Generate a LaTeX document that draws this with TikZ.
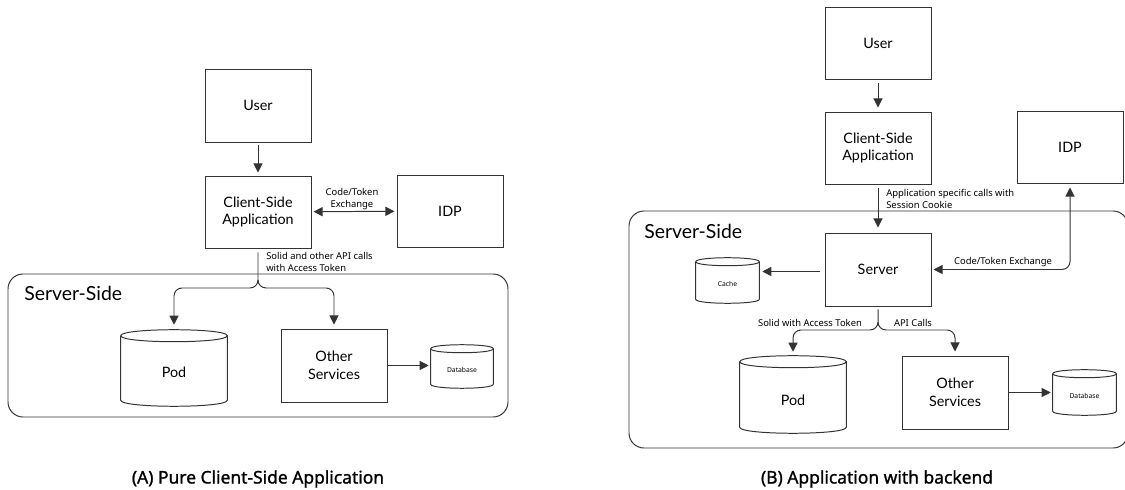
\documentclass[tikz,border=0pt]{standalone}
\usepackage{fontspec}
\setmainfont{Lato}
\newfontfamily\capfont[FakeBold=1.2]{Noto Sans}
\newfontfamily\lblfont{Noto Sans}
\usetikzlibrary{arrows.meta,calc}
\newcommand\pxu{0.025cm}
\definecolor{ln}{HTML}{333333}
\newcommand\drawcyl[2]{%
  \draw[cylline] ($(#1.north west)+(0,#2)$) .. controls ($(#1.north west)+(0,{-#2/3})$) and ($(#1.north east)+(0,{-#2/3})$) .. ($(#1.north east)+(0,#2)$)
     .. controls ($(#1.north east)+(0,{7*#2/3})$) and ($(#1.north west)+(0,{7*#2/3})$) .. ($(#1.north west)+(0,#2)$);
  \draw[cylline] ($(#1.north west)+(0,#2)$) -- ($(#1.south west)+(0,-#2)$)
     .. controls ($(#1.south west)+(0,{#2/3})$) and ($(#1.south east)+(0,{#2/3})$) .. ($(#1.south east)+(0,-#2)$)
     -- ($(#1.north east)+(0,#2)$);
}
\tikzset{
  cylline/.style={draw=ln, line width=0.7pt},
  box/.style={draw=ln, line width=0.7pt, rectangle, inner sep=0pt, minimum width=106*\pxu, minimum height=73*\pxu, align=center, font=\fontsize{10.2}{12.5}\selectfont},
  cylnode/.style={rectangle, inner sep=0pt, align=center},
  container/.style={draw=ln, line width=0.7pt, rounded corners=15*\pxu, rectangle, inner sep=0pt},
  conn/.style={draw=ln, line width=0.7pt, -{Triangle[length=6.5pt,width=6.5pt]}},
  biconn/.style={draw=ln, line width=0.7pt, {Triangle[length=6.5pt,width=6.5pt]}-{Triangle[length=6.5pt,width=6.5pt]}},
  small/.style={font=\lblfont\fontsize{6.7}{8}\selectfont, inner sep=0pt, align=left},
  tiny/.style={font=\lblfont\fontsize{4.8}{6}\selectfont},
  sstitle/.style={font=\fontsize{13.8}{15}\selectfont, inner sep=0pt, anchor=west},
  caption/.style={font=\capfont\fontsize{12.4}{14}\selectfont, inner sep=0pt},
}
\begin{document}
\begin{tikzpicture}[x=0.025cm, y=-0.025cm]
\useasboundingbox (0,0) rectangle (1125,490);
% ---------- (A) ----------
\node[container, minimum width=500*\pxu, minimum height=143*\pxu] (ssA) at (258,345.5) {};
\node[sstitle] (ssAt) at (24,293) {Server-Side};
\node[box] (userA) at (258,105.5) {User};
\node[box, minimum height=72*\pxu] (clientA) at (258,212) {Client-Side\\Application};
\node[box, minimum height=72*\pxu] (idpA) at (450,211) {IDP};
\node[cylnode, minimum width=106*\pxu, minimum height=76*\pxu, font=\fontsize{10.2}{12}\selectfont] (podA) at (174,368) {\raisebox{-7pt}[0pt][0pt]{Pod}};
\drawcyl{podA}{6}
\node[box] (otherA) at (334,365.5) {Other\\Services};
\node[cylnode, minimum width=62*\pxu, minimum height=43*\pxu, tiny] (dbA) at (462,366.5) {\raisebox{-4pt}[0pt][0pt]{Database}};
\drawcyl{dbA}{4}
\draw[conn, shorten <=3*\pxu, shorten >=3*\pxu] (userA) -- (clientA);
\draw[biconn, shorten <=2*\pxu, shorten >=2*\pxu] (clientA) -- (idpA);
\node[small, align=center] (lblA1) at (352,199) {Code/Token\\Exchange};
\coordinate (jA) at (258,288);
\draw[conn, rounded corners=8*\pxu, shorten <=4*\pxu, shorten >=5*\pxu] (clientA.south) -- (jA) -| (podA.north);
\draw[conn, rounded corners=8*\pxu, shorten >=4*\pxu] ($(jA)+(0,-8)$) -- (jA) -| (otherA.north);
\node[small, anchor=west] (lblA2) at (266,262) {Solid and other API calls\\with Access Token};
\draw[conn, shorten >=2*\pxu] (otherA.east) -- (otherA.east -| dbA.west);
\node[caption] (capA) at (258,479) {(A) Pure Client-Side Application};
% ---------- (B) ----------
\node[container, minimum width=499*\pxu, minimum height=237*\pxu] (ssB) at (878.5,329.5) {};
\node[sstitle] (ssBt) at (644,231) {Server-Side};
\node[box, minimum height=72*\pxu] (userB) at (878,43) {User};
\node[box, minimum height=72*\pxu] (clientB) at (878,148) {Client-Side\\Application};
\node[box, minimum height=72*\pxu] (idpB) at (1070,147) {IDP};
\node[box] (serverB) at (878,269.5) {Server};
\node[cylnode, minimum width=63*\pxu, minimum height=45*\pxu, tiny] (cacheB) at (727.5,280.5) {\raisebox{-4pt}[0pt][0pt]{Cache}};
\drawcyl{cacheB}{4}
\node[cylnode, minimum width=106*\pxu, minimum height=77*\pxu, font=\fontsize{10.2}{12}\selectfont] (podB) at (793,394.5) {\raisebox{-7.5pt}[0pt][0pt]{Pod}};
\drawcyl{podB}{6}
\node[box] (otherB) at (955,392.5) {Other\\Services};
\node[cylnode, minimum width=63*\pxu, minimum height=45*\pxu, tiny] (dbB) at (1084.5,392.5) {\raisebox{-4pt}[0pt][0pt]{Database}};
\drawcyl{dbB}{4}
\draw[conn, shorten <=4*\pxu, shorten >=4*\pxu] (userB) -- (clientB);
\draw[conn, shorten <=4*\pxu, shorten >=5*\pxu] (clientB) -- (serverB);
\node[small, anchor=west] (lblB1) at (886,199) {Application specific calls with\\Session Cookie};
\draw[biconn, rounded corners=8*\pxu, shorten <=2*\pxu, shorten >=4*\pxu] (serverB.east) -| (idpB.south);
\node[small] (lblB2) at (1003,262) {Code/Token Exchange};
\draw[conn, shorten <=5*\pxu, shorten >=3*\pxu] ([yshift=-2*\pxu]serverB.west) -- ([yshift=-2*\pxu]serverB.west -| cacheB.east);
\coordinate (jB) at (878,330);
\draw[conn, rounded corners=8*\pxu, shorten <=3*\pxu, shorten >=4*\pxu] (serverB.south) -- (jB) -| (podB.north);
\draw[conn, rounded corners=8*\pxu, shorten >=4*\pxu] ($(jB)+(0,-8)$) -- (jB) -| (otherB.north);
\node[small] (lblB3) at (810,323) {Solid with Access Token};
\node[small] (lblB4) at (913,323) {API Calls};
\draw[conn, shorten >=2*\pxu] (otherB.east) -- (otherB.east -| dbB.west);
\node[caption] (capB) at (877,479) {(B) Application with backend};
\end{tikzpicture}
\end{document}
